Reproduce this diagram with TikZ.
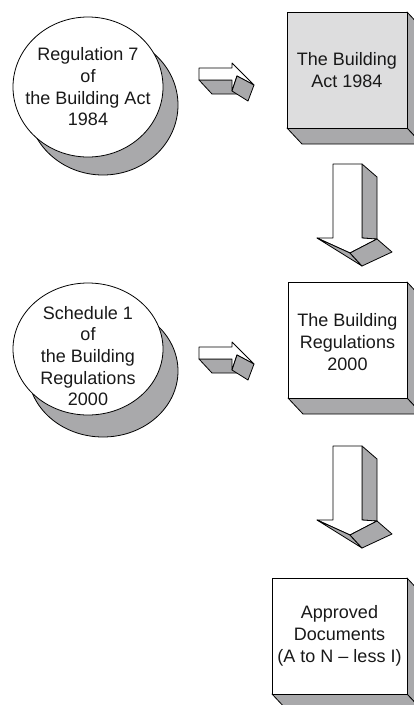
\documentclass[tikz,border=0pt]{standalone}
\usepackage{fontspec}
\setmainfont{Liberation Sans}
\usepackage{xcolor}
\definecolor{sidegray}{RGB}{169,169,171}
\definecolor{frontgray}{RGB}{221,221,222}
\tikzset{txt/.style={align=center,inner sep=0pt,text=black!90,
  font=\fontsize{18}{21.7}\selectfont}}

\begin{document}
\begin{tikzpicture}[x=1pt,y=-1pt,line width=0.8pt,line join=round]
      \useasboundingbox (0,0) rectangle (414,705);
      \clip (0,0) rectangle (414,705);
      \foreach \cy/\ry/\dy in {87/70/18,349/66/22}
      {
            \filldraw[fill=sidegray,draw=black] (103,\cy+\dy) 
            ellipse [x radius=75pt,y radius=\ry pt];
            \filldraw[fill=white,draw=black] (88,\cy) 
            ellipse [x radius=75pt,y radius=\ry pt];
      }
      \foreach \bx/\by/\bw/\col in {287/12/120/frontgray,288/282/119/white,272/578/135/white}
      {
            \filldraw[fill=sidegray,draw=black] (\bx+\bw,\by) -- ++(15,16) 
            -- ++(0,116) -- ++(-15,-16) -- cycle;
            \filldraw[fill=sidegray,draw=black] (\bx,\by+116) -- ++(\bw,0) 
            -- ++(15,16) -- ++(-\bw,0) -- cycle;
            \filldraw[fill=\col,draw=black] (\bx,\by) rectangle ++(\bw,116);
      }
      \foreach \dy in {0,279}
      {
            \begin{scope}[yshift=-\dy pt]
            \filldraw[fill=sidegray,draw=black] (199,80) -- (233,80) -- (241,94) -- (212,94) -- cycle;
            \filldraw[fill=white,draw=black] (199,68) -- (232,68) -- (232,63) -- (254,85) 
            -- (237,76) -- (232,91) -- (232,80) -- (199,80) -- cycle;
            \filldraw[fill=sidegray,draw=black] (237,76) -- (254,85) -- (248,101) -- (232,91) -- cycle;
            \end{scope}
      }
      \foreach \dy in {0,282}
      {
            \begin{scope}[yshift=-\dy pt]
            \filldraw[fill=sidegray,draw=black] (362,164) -- (377,177) -- (377,239) -- (362,238) -- cycle;
            \filldraw[fill=white,draw=black] (333,164) -- (362,164) -- (362,238) -- (377,239) 
            -- (350,253) -- (317,238) -- (333,238) -- cycle;
            \filldraw[fill=sidegray,draw=black] (317,238) -- (350,253) -- (362,266) -- cycle;
            \filldraw[fill=sidegray,draw=black] (350,253) -- (377,239) -- (392,252) -- (362,266) -- cycle;
            \end{scope}
      }
      \node[txt] (reg7) at (88,87) {Regulation 7\\of\\the Building Act\\1984};
      \node[txt] (sched1) at (88,356) {Schedule 1\\of\\the Building\\Regulations\\2000};
      \node[txt] (act84) at (347,70) {The Building\\Act 1984};
      \node[txt] (regs00) at (347.5,342) {The Building\\Regulations\\2000};
      \node[txt] (appdocs) at (339.5,636) {Approved\\Documents\\(A to N – less I)};
\end{tikzpicture}
\end{document}
